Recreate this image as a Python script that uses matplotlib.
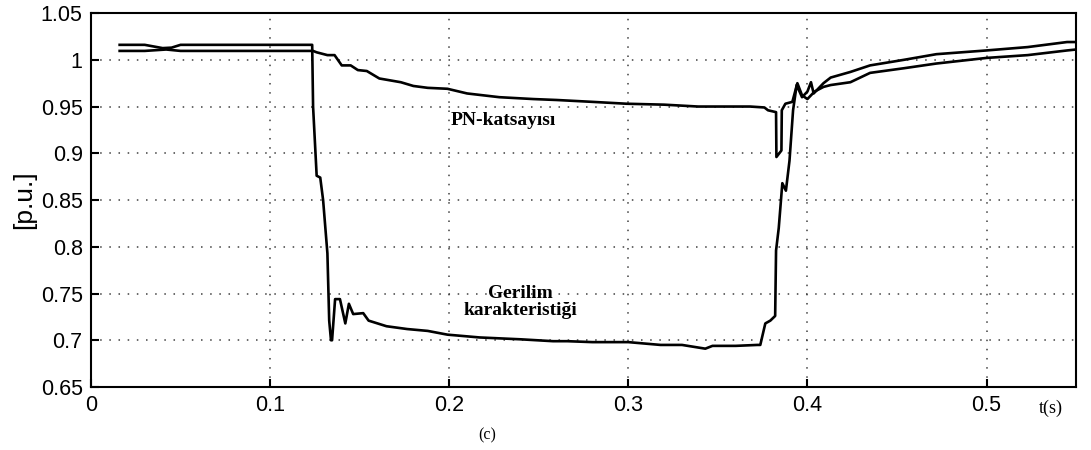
import matplotlib
matplotlib.use("Agg")

import matplotlib.pyplot as plt

# Gerilim karakteristigi (voltage curve)
t_v = [0.016, 0.03, 0.04, 0.045, 0.05, 0.07, 0.09, 0.11,
       0.1235, 0.124, 0.126, 0.128, 0.1296, 0.132, 0.133, 0.134,
       0.1346, 0.1363, 0.139, 0.142, 0.144, 0.1464, 0.152, 0.155,
       0.165, 0.1765, 0.188, 0.199, 0.217, 0.240, 0.258, 0.266,
       0.28, 0.30, 0.318, 0.33, 0.343, 0.347, 0.36, 0.372,
       0.3737, 0.3765, 0.3793, 0.382, 0.3825, 0.384, 0.386, 0.388,
       0.390, 0.392, 0.394, 0.397, 0.400, 0.402, 0.4035, 0.409,
       0.413, 0.424, 0.435, 0.454, 0.472, 0.500, 0.523, 0.545, 0.55]
v_v = [1.016, 1.016, 1.0125, 1.013, 1.016, 1.016, 1.016, 1.016,
       1.016, 0.95, 0.876, 0.874, 0.85, 0.793, 0.721, 0.70,
       0.70, 0.744, 0.744, 0.718, 0.739, 0.728, 0.729, 0.721,
       0.715, 0.712, 0.710, 0.706, 0.703, 0.701, 0.699, 0.699,
       0.698, 0.698, 0.695, 0.695, 0.691, 0.694, 0.694, 0.695,
       0.695, 0.718, 0.721, 0.726, 0.796, 0.82, 0.868, 0.86,
       0.892, 0.946, 0.973, 0.960, 0.966, 0.976, 0.964, 0.975,
       0.981, 0.987, 0.994, 1.000, 1.006, 1.010, 1.0136, 1.019, 1.019]

# PN-katsayisi curve
t_p = [0.016, 0.03, 0.042, 0.05, 0.07, 0.09, 0.11, 0.124,
       0.126, 0.132, 0.136, 0.140, 0.145, 0.149, 0.154, 0.161,
       0.173, 0.180, 0.188, 0.199, 0.210, 0.228, 0.247, 0.260,
       0.280, 0.299, 0.320, 0.339, 0.368, 0.376, 0.378, 0.3825,
       0.3827, 0.3855, 0.3857, 0.3877, 0.3916, 0.3944, 0.397, 0.400,
       0.404, 0.409, 0.413, 0.424, 0.435, 0.454, 0.472, 0.500,
       0.523, 0.545, 0.55]
v_p = [1.0095, 1.0095, 1.011, 1.0095, 1.0095, 1.0095, 1.0095, 1.0095,
       1.008, 1.005, 1.005, 0.994, 0.994, 0.989, 0.988, 0.980,
       0.976, 0.972, 0.970, 0.969, 0.964, 0.960, 0.958, 0.957,
       0.955, 0.953, 0.952, 0.950, 0.950, 0.949, 0.946, 0.944,
       0.896, 0.903, 0.946, 0.953, 0.955, 0.975, 0.962, 0.958,
       0.966, 0.971, 0.973, 0.976, 0.986, 0.991, 0.996, 1.002,
       1.005, 1.010, 1.011]

xticks = [0, 0.1, 0.2, 0.3, 0.4, 0.5]
xticklabels = ["0", "0.1", "0.2", "0.3", "0.4", "0.5"]
yticks = [0.65, 0.7, 0.75, 0.8, 0.85, 0.9, 0.95, 1.0, 1.05]
yticklabels = ["0.65", "0.7", "0.75", "0.8", "0.85", "0.9", "0.95", "1", "1.05"]

plt.rcParams['font.family'] = ['Liberation Sans', 'DejaVu Sans']
serif = ["Liberation Serif", "DejaVu Serif"]

fig = plt.figure(figsize=(10.91, 4.5), dpi=100)
ax = fig.add_axes([0.0834, 0.14, 0.9029, 0.831])

ax.plot(t_v, v_v, color="black", linewidth=1.9)
ax.plot(t_p, v_p, color="black", linewidth=1.9)

ax.set_xlim(0, 0.55)
ax.set_ylim(0.65, 1.05)
ax.set_xticks(xticks)
ax.set_xticklabels(xticklabels)
ax.set_yticks(yticks)
ax.set_yticklabels(yticklabels)
ax.tick_params(direction="in", length=6, width=1.5, labelsize=15.5, pad=6)
ax.grid(True, color="0.25", linestyle=(0, (1, 5)), linewidth=1.1)
for s in ax.spines.values():
    s.set_linewidth(1.5)

ax.set_ylabel("[p.u.]", fontsize=19, labelpad=3)

# yazilar
ax.text(0.230, 0.935, "PN-katsayısı", family=serif,
        fontweight="bold", fontsize=14, ha="center", va="center")
ax.text(0.2395, 0.741, "Gerilim\nkarakteristiği", family=serif,
        fontweight="bold", fontsize=14, ha="center", va="center", linespacing=1.02)
fig.text(1051 / 1091, 1 - 408 / 450, "t(s)", family=serif,
         fontsize=13, ha="center", va="center")
fig.text(487 / 1091, 1 - 435 / 450, "(c)", family=serif,
         fontsize=11.5, ha="center", va="center")

plt.savefig("out.png", dpi=100)
